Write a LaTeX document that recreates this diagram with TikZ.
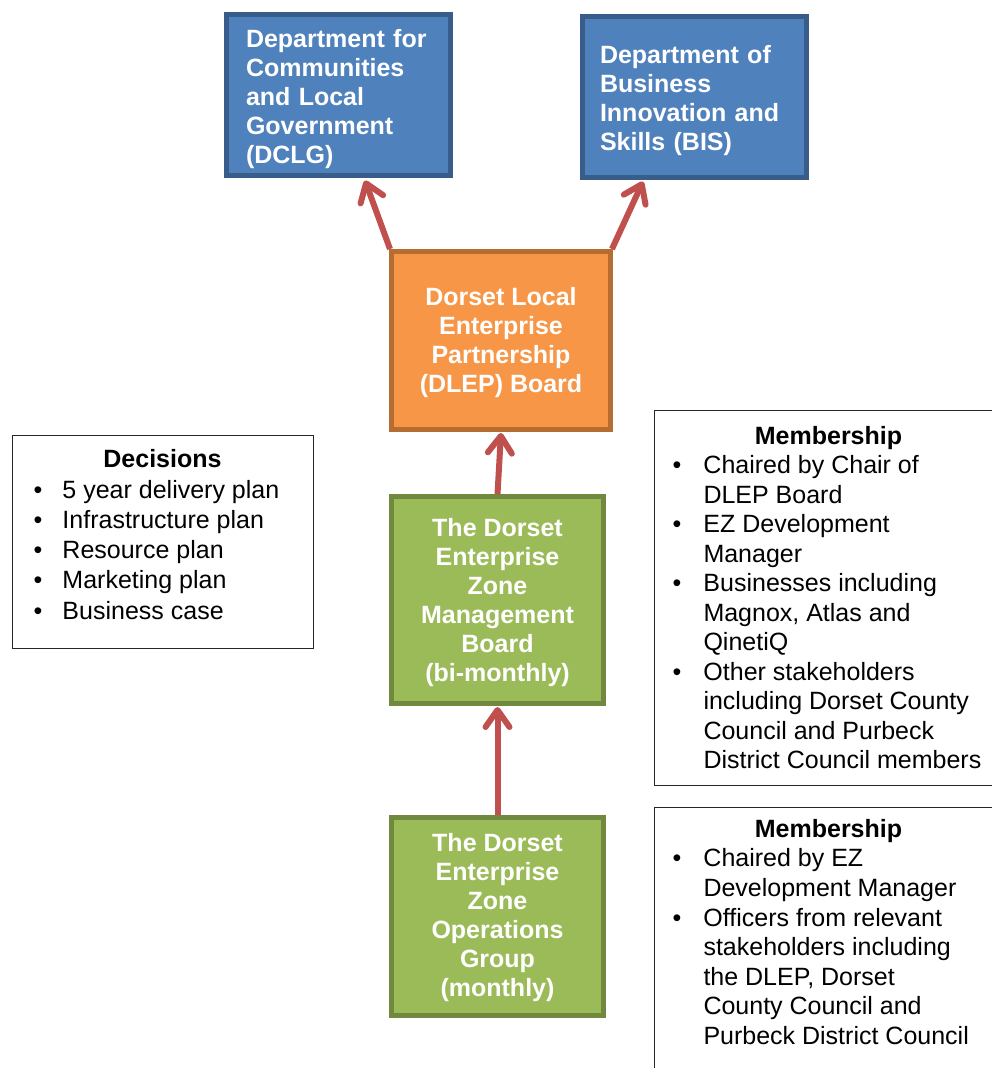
\documentclass[tikz,border=0pt]{standalone}
\usepackage{fontspec}
\setmainfont{Liberation Sans}
\usetikzlibrary{arrows.meta,calc}
\definecolor{bluefill}{HTML}{4F81BD}
\definecolor{blueline}{HTML}{385D8A}
\definecolor{orangefill}{HTML}{F79646}
\definecolor{orangeline}{HTML}{B66D31}
\definecolor{greenfill}{HTML}{9BBB59}
\definecolor{greenline}{HTML}{71893F}
\definecolor{arrowred}{HTML}{C0504D}
\newlength\bulx
\newlength\txtx
\newcommand{\bulline}[1]{\par\noindent\makebox[\txtx][l]{\hspace{\bulx}\textbullet}#1}
\newcommand{\contline}[1]{\par\noindent\hspace*{\txtx}#1}
\newcommand{\headline}[2]{\noindent\hspace*{#1}\makebox[0pt]{\bfseries #2}\strut}
\newcommand{\lift}[1]{\rule{0pt}{#1pt}}
\tikzset{
  orgbox/.style={draw, line width=5pt, inner sep=0pt, text=white,
    font=\fontsize{25}{29}\selectfont\bfseries},
  bluebox/.style={orgbox, fill=bluefill, draw=blueline, align=left},
  orangebox/.style={orgbox, fill=orangefill, draw=orangeline, align=center},
  greenbox/.style={orgbox, fill=greenfill, draw=greenline, align=center},
  txtbox/.style={draw=black!85, line width=1.5pt, inner sep=0pt, fill=white, anchor=north west},
  arr/.style={draw=arrowred, line width=6pt, -{Straight Barb[length=17pt,width=24pt,round]}}
}
\begin{document}
\begin{tikzpicture}[x=1pt,y=-1pt]
\useasboundingbox (0,0) rectangle (992,1068);
\fill[white] (0,0) rectangle (992,1068);

% government departments
\node[bluebox, minimum width=224pt, minimum height=161pt, text width=185pt] (dclg) at (338.5,95)
  {\lift{26}Department for\\Communities\\and Local\\Government\\(DCLG)};
\node[bluebox, minimum width=224pt, minimum height=161pt, text width=189pt] (bis) at (694.5,97)
  {\lift{26}Department of\\Business\\Innovation and\\Skills (BIS)};

% DLEP board
\node[orangebox, minimum width=219pt, minimum height=178pt] (dlep) at (501,340.5)
  {\lift{22}Dorset Local\\Enterprise\\Partnership\\(DLEP) Board};

% management board
\node[greenbox, minimum width=212pt, minimum height=207pt] (mb) at (497.5,600)
  {\lift{24}The Dorset\\Enterprise\\Zone\\Management\\Board\\(bi-monthly)};

% operations group
\node[greenbox, minimum width=212pt, minimum height=198pt] (og) at (497.5,916.5)
  {\lift{20}The Dorset\\Enterprise\\Zone\\Operations\\Group\\(monthly)};

% decisions box
\node[txtbox] (dec) at (11.75,434.75) {\parbox[c][213pt][t]{301pt}{%
  \fontsize{25}{30.3}\selectfont\setlength\parskip{0pt}%
  \setlength\bulx{21pt}\setlength\txtx{50pt}%
  \vspace*{11pt}%
  \headline{150pt}{Decisions}%
  \bulline{5 year delivery plan}%
  \bulline{Infrastructure plan}%
  \bulline{Resource plan}%
  \bulline{Marketing plan}%
  \bulline{Business case}}};

% membership of management board
\node[txtbox] (mem1) at (653.75,409.75) {\parbox[c][375pt][t]{360pt}{%
  \fontsize{25}{29.5}\selectfont\setlength\parskip{0pt}%
  \setlength\bulx{18pt}\setlength\txtx{49pt}%
  \vspace*{13pt}%
  \headline{174pt}{Membership}%
  \bulline{Chaired by Chair of}%
  \contline{DLEP Board}%
  \bulline{EZ Development}%
  \contline{Manager}%
  \bulline{Businesses including}%
  \contline{Magnox, Atlas and}%
  \contline{QinetiQ}%
  \bulline{Other stakeholders}%
  \contline{including Dorset County}%
  \contline{Council and Purbeck}%
  \contline{District Council members}}};

% membership of operations group
\node[txtbox] (mem2) at (653.75,806.75) {\parbox[c][300pt][t]{360pt}{%
  \fontsize{25}{29.6}\selectfont\setlength\parskip{0pt}%
  \setlength\bulx{18pt}\setlength\txtx{49pt}%
  \vspace*{9pt}%
  \headline{174pt}{Membership}%
  \bulline{Chaired by EZ}%
  \contline{Development Manager}%
  \bulline{Officers from relevant}%
  \contline{stakeholders including}%
  \contline{the DLEP, Dorset}%
  \contline{County Council and}%
  \contline{Purbeck District Council}}};

% connectors
\draw[arr] ([xshift=1pt]dlep.north west) -- ([xshift=26.5pt,yshift=-2.5pt]dclg.south);
\draw[arr] ([xshift=-1pt]dlep.north east) -- ([xshift=-51.5pt,yshift=-1.5pt]bis.south);
\draw[arr] (mb.north) -- ([yshift=-1pt]dlep.south);
\draw[arr] (og.north) -- ([yshift=-1pt]mb.south);
\end{tikzpicture}
\end{document}
